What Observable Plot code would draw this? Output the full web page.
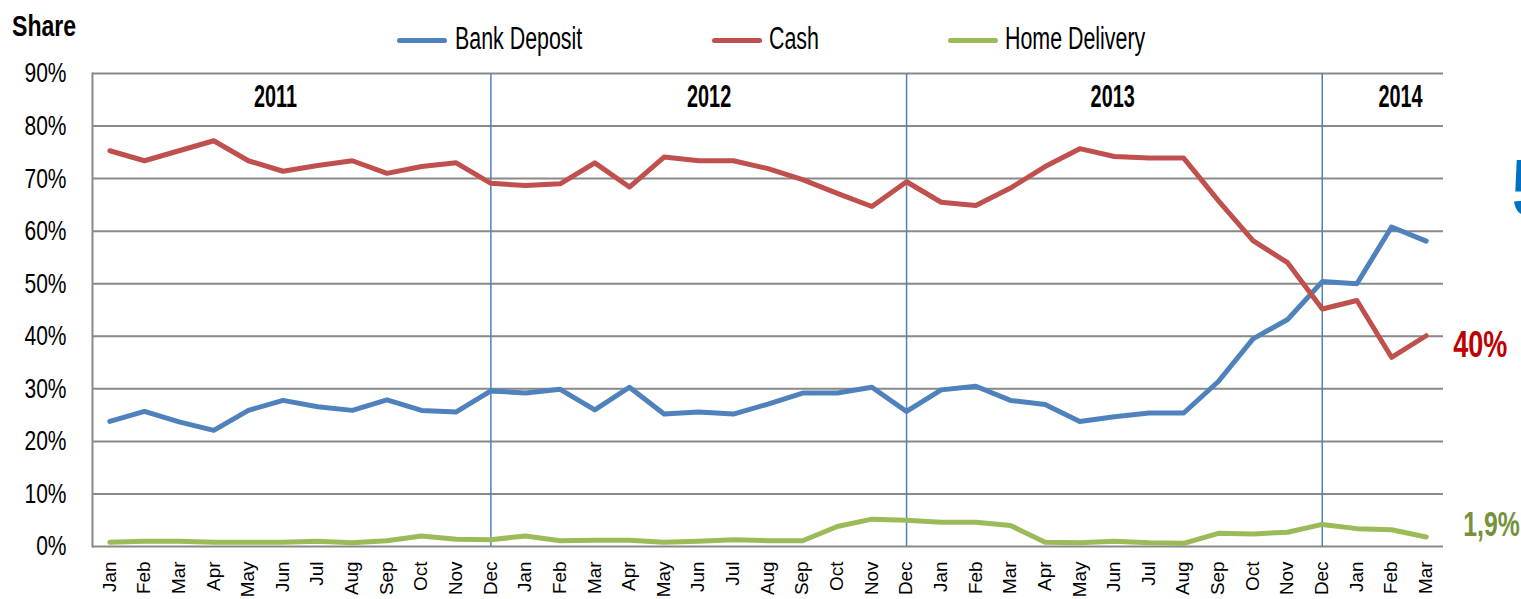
<!DOCTYPE html>
<html>
<head>
<meta charset="utf-8">
<script src="https://cdn.jsdelivr.net/npm/d3@7"></script>
<script src="https://cdn.jsdelivr.net/npm/@observablehq/plot@0.6"></script>
<style>
  html, body { margin: 0; padding: 0; background: #fff; }
  body { width: 1521px; height: 599px; overflow: hidden; font-family: "Liberation Sans", Arial, sans-serif; }
  #head { position: relative; height: 55px; }
  .t { position: absolute; display: inline-block; white-space: nowrap; line-height: 1; transform-origin: 0 50%; color: #000; }
  #title { left: 12px; top: 11px; font-size: 30px; font-weight: bold; transform: scaleX(0.77); }
  .sw { position: absolute; top: 37.5px; width: 50px; height: 5px; border-radius: 3px; }
  .lb { top: 23px; font-size: 31px; transform: scaleX(0.69); }
  #chart svg { display: block; }
</style>
</head>
<body>
<div id="head">
  <span id="title" class="t">Share</span>
</div>
<div id="chart"></div>
<script>
const months = ["Jan","Feb","Mar","Apr","May","Jun","Jul","Aug","Sep","Oct","Nov","Dec",
                "Jan","Feb","Mar","Apr","May","Jun","Jul","Aug","Sep","Oct","Nov","Dec",
                "Jan","Feb","Mar","Apr","May","Jun","Jul","Aug","Sep","Oct","Nov","Dec",
                "Jan","Feb","Mar"];
const seriesNames = ["Bank Deposit", "Cash", "Home Delivery"];
const seriesColors = ["#4F81BD", "#C0504D", "#9BBB59"];

const bankDeposit = [23.8,25.7,23.7,22.1,25.9,27.8,26.6,25.9,27.9,25.9,25.6,29.6,
                     29.2,29.9,26.0,30.3,25.2,25.6,25.2,27.1,29.2,29.2,30.3,25.7,
                     29.8,30.5,27.8,27.0,23.8,24.7,25.4,25.4,31.4,39.5,43.2,50.4,
                     50.0,60.8,58.1];
const cash = [75.3,73.4,75.3,77.2,73.4,71.4,72.5,73.4,71.0,72.3,73.0,69.1,
              68.7,69.0,73.0,68.4,74.1,73.4,73.4,71.9,69.8,67.2,64.7,69.4,
              65.5,64.9,68.2,72.3,75.7,74.2,73.9,73.9,65.8,58.2,54.0,45.2,
              46.8,36.0,40.1];
const homeDelivery = [0.8,1.0,1.0,0.8,0.8,0.8,1.0,0.7,1.1,2.0,1.4,1.3,
                      2.0,1.1,1.2,1.2,0.8,1.0,1.3,1.1,1.1,3.8,5.2,5.0,
                      4.6,4.6,4.0,0.8,0.7,1.0,0.7,0.6,2.5,2.4,2.7,4.2,
                      3.4,3.2,1.8];

const years = ["2011", "2012", "2013", "2014"];
const yearCenters = [4.78, 17.3, 28.95, 37.26];
const yearLabelLevel = 0.855;
const yearDividers = [11, 23, 35];
const yTicks = [0, 0.1, 0.2, 0.3, 0.4, 0.5, 0.6, 0.7, 0.8, 0.9];
const endLabelTexts = ["58%", "40%", "1,9%"];
const endLabelColors = ["#0070C0", "#C00000", "#76923C"];

// legend (HTML)
const legendSwatchLeft = [397, 712, 948];
const legendTextLeft = [455, 769, 1005];
const head = document.getElementById("head");
seriesNames.forEach((name, i) => {
  const sw = document.createElement("div");
  sw.className = "sw";
  sw.style.left = legendSwatchLeft[i] + "px";
  sw.style.background = seriesColors[i];
  head.appendChild(sw);
  const lb = document.createElement("span");
  lb.className = "t lb";
  lb.style.left = legendTextLeft[i] + "px";
  lb.textContent = name;
  head.appendChild(lb);
});

const allSeries = [bankDeposit, cash, homeDelivery];
const data = [];
allSeries.forEach((arr, s) => arr.forEach((v, i) => data.push({i, value: v / 100, series: seriesNames[s]})));
const lastIdx = months.length - 1;
const endData = seriesNames.map((s, k) => ({text: endLabelTexts[k], color: endLabelColors[k], i: lastIdx, value: allSeries[k][lastIdx] / 100}));
const yearData = years.map((y, k) => ({text: y, i: yearCenters[k], value: yearLabelLevel}));

const FONT = '"Liberation Sans", Arial, sans-serif';
const endMark = (k, dx, dy, fontSize) => Plot.text([endData[k]], {
  x: "i", y: "value", text: "text", fill: endData[k].color, dx, dy,
  textAnchor: "start", fontSize, fontWeight: "bold"
});

const chart = Plot.plot({
  width: 1521,
  height: 544,
  marginLeft: 92,
  marginRight: 78,
  marginTop: 18,
  marginBottom: 53,
  style: {fontFamily: FONT, background: "#fff", overflow: "visible"},
  x: {type: "linear", domain: [-0.5, months.length - 0.5]},
  y: {domain: [0, 0.9]},
  color: {domain: seriesNames, range: seriesColors},
  marks: [
    Plot.ruleY(yTicks, {stroke: "#898989", strokeWidth: 2}),
    Plot.frame({anchor: "left", stroke: "#898989", strokeWidth: 2}),
    Plot.ruleX(yearDividers, {stroke: "#4F81BD", strokeWidth: 1.5}),
    Plot.axisY({ticks: yTicks, tickFormat: d3.format(".0%"), tickSize: 0, tickPadding: 26, fontSize: 28, label: null, color: "#000"}),
    Plot.axisX({ticks: d3.range(months.length), tickFormat: i => months[i], tickRotate: -90, tickSize: 0, tickPadding: 15, fontSize: 18, label: null, color: "#000"}),
    Plot.text(yearData, {x: "i", y: "value", text: "text", fontSize: 32, fontWeight: "bold", fill: "#000"}),
    Plot.line(data, {x: "i", y: "value", z: "series", stroke: "series", strokeWidth: 5, strokeLinejoin: "round", strokeLinecap: "round"}),
    endMark(0, 86, -52, 80),
    endMark(1, 27, 10, 36),
    endMark(2, 37, -13, 36)
  ]
});

// condense text horizontally around its anchor (the reference uses a very narrow typeface)
function num(v) { const n = parseFloat(v); return (v == null || /em$/.test(String(v).trim()) || isNaN(n)) ? 0 : n; }
function condense(el, sx) {
  const px = num(el.getAttribute("x")) + num(el.getAttribute("dx"));
  const t = el.getAttribute("transform") || "";
  el.setAttribute("transform", `${t} translate(${px},0) scale(${sx},1) translate(${-px},0)`.trim());
}
const svg = d3.select(chart);
svg.selectAll('g[aria-label="y-axis tick label"] text').each(function() { condense(this, 0.75); });
svg.selectAll('g[aria-label="x-axis tick label"] text').each(function() { condense(this, 1.05); });
const textGroups = svg.selectAll('g[aria-label="text"]').nodes();
const condenseFactors = [0.62, 0.75, 0.75, 0.69];
textGroups.forEach((g, k) => d3.select(g).selectAll("text").each(function() { condense(this, condenseFactors[k]); }));
document.getElementById("chart").appendChild(chart);
</script>
</body>
</html>
